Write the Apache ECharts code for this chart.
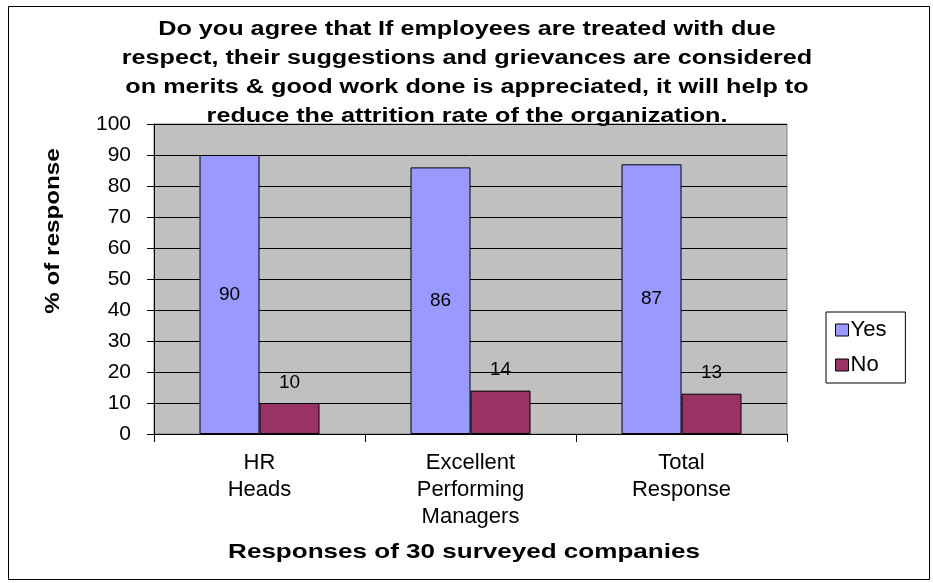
<!DOCTYPE html>
<html>
<head>
<meta charset="utf-8">
<script src="https://cdn.jsdelivr.net/npm/echarts@6/dist/echarts.min.js"></script>
<style>
  html, body { margin: 0; padding: 0; background: #ffffff; }
  #chart { width: 933px; height: 583px; }
</style>
</head>
<body>
<div id="chart"></div>
<script>
// Survey groups and the share of each answer (percent)
var categories = ['HR\nHeads', 'Excellent\nPerforming\nManagers', 'Total\nResponse'];
var yesValues = [90, 86, 87];
var noValues = [10, 14, 13];
var seriesNames = ['Yes', 'No'];

var titleText = 'Do you agree that If employees are treated with due\n' +
  'respect, their suggestions and grievances are considered\n' +
  'on merits & good work done is appreciated, it will help to\n' +
  'reduce the attrition rate of the organization.';
var xAxisTitle = 'Responses of 30 surveyed companies';
var yAxisTitle = '% of response';

var FONT = '"Liberation Sans", Arial, sans-serif';

var chart = echarts.init(document.getElementById('chart'), null, { renderer: 'canvas' });

chart.setOption({
  backgroundColor: '#ffffff',
  animation: false,
  textStyle: { fontFamily: FONT, color: '#000000' },
  graphic: [
    {
      // outer frame
      type: 'rect',
      shape: { x: 8.5, y: 6.5, width: 921, height: 573 },
      style: { fill: 'none', stroke: '#000000', lineWidth: 1 },
      silent: true,
      z: -1
    },
    {
      // wide bold heading
      type: 'text',
      x: 467,
      y: 15,
      scaleX: 1.26,
      style: {
        text: titleText,
        x: 0,
        y: 0,
        align: 'center',
        verticalAlign: 'top',
        font: 'bold 20px ' + FONT,
        lineHeight: 29,
        fill: '#000000'
      },
      silent: true
    },
    {
      // value axis caption, reading bottom to top
      type: 'text',
      x: 53,
      y: 231,
      rotation: Math.PI / 2,
      scaleX: 1.21,
      style: {
        text: yAxisTitle,
        x: 0,
        y: 0,
        align: 'center',
        verticalAlign: 'middle',
        font: 'bold 20px ' + FONT,
        fill: '#000000'
      },
      silent: true
    },
    {
      // category axis caption
      type: 'text',
      x: 464,
      y: 552,
      scaleX: 1.24,
      style: {
        text: xAxisTitle,
        x: 0,
        y: 0,
        align: 'center',
        verticalAlign: 'middle',
        font: 'bold 21px ' + FONT,
        fill: '#000000'
      },
      silent: true
    }
  ],
  legend: {
    data: seriesNames,
    orient: 'vertical',
    left: 826,
    top: 312,
    padding: [7, 19, 7, 9],
    itemGap: 13,
    itemWidth: 13,
    itemHeight: 12,
    icon: 'rect',
    borderColor: '#000000',
    borderWidth: 1,
    backgroundColor: '#ffffff',
    textStyle: { fontFamily: FONT, fontSize: 22, lineHeight: 22, color: '#000000', padding: [0, 0, 0, -3] },
    itemStyle: { borderColor: '#000000', borderWidth: 1 }
  },
  grid: {
    left: 154,
    top: 124,
    right: 146,
    bottom: 149,
    show: true,
    backgroundColor: '#c0c0c0',
    borderColor: '#808080',
    borderWidth: 1,
    containLabel: false
  },
  xAxis: {
    type: 'category',
    data: categories,
    axisLine: { show: true, lineStyle: { color: '#000000', width: 1 } },
    axisTick: { show: true, length: 8, alignWithLabel: false, lineStyle: { color: '#000000' } },
    axisLabel: {
      fontFamily: FONT,
      fontSize: 22,
      lineHeight: 27,
      color: '#000000',
      margin: 15,
      interval: 0
    },
    splitLine: { show: false }
  },
  yAxis: {
    type: 'value',
    min: 0,
    max: 100,
    interval: 10,
    axisLine: { show: true, lineStyle: { color: '#000000', width: 1 } },
    axisTick: { show: true, length: 7, lineStyle: { color: '#000000' } },
    axisLabel: { fontFamily: FONT, fontSize: 21, color: '#000000', margin: 23 },
    splitLine: { show: true, lineStyle: { color: '#000000', width: 1 } }
  },
  series: [
    {
      name: seriesNames[0],
      type: 'bar',
      data: yesValues,
      barWidth: 60,
      barGap: '0%',
      itemStyle: { color: '#9999ff', borderColor: '#000000', borderWidth: 1 },
      label: {
        show: true,
        position: 'inside',
        fontFamily: FONT,
        fontSize: 19,
        color: '#000000'
      }
    },
    {
      name: seriesNames[1],
      type: 'bar',
      data: noValues,
      barWidth: 60,
      barGap: '0%',
      itemStyle: { color: '#993366', borderColor: '#000000', borderWidth: 1 },
      label: {
        show: true,
        position: 'top',
        distance: 11,
        fontFamily: FONT,
        fontSize: 19,
        color: '#000000'
      }
    }
  ]
});
</script>
</body>
</html>
